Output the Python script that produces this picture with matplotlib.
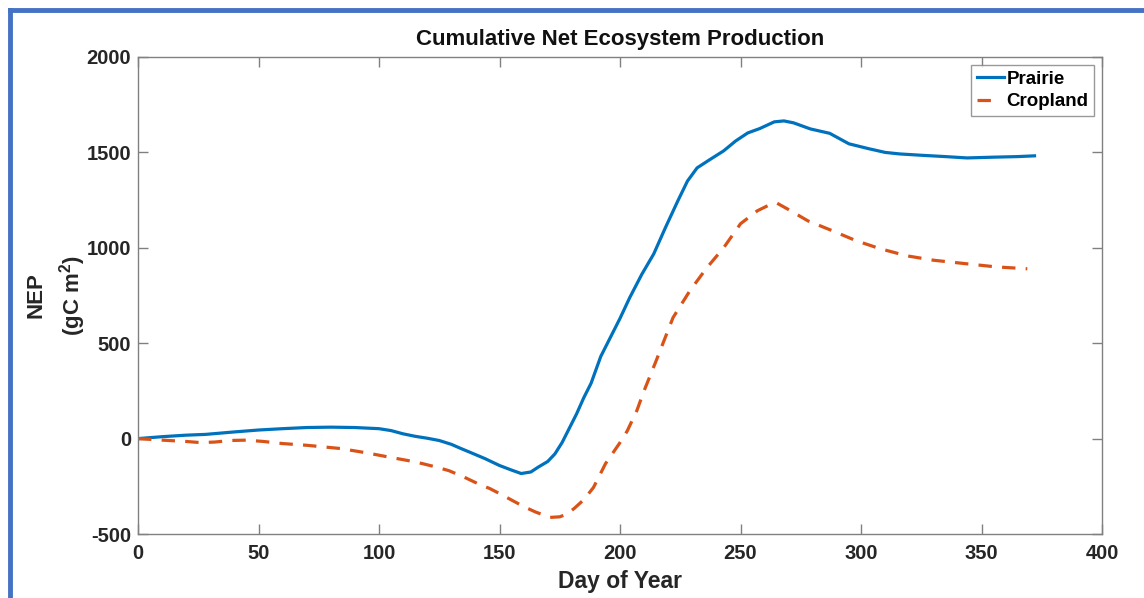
import matplotlib
matplotlib.use("Agg")
import matplotlib.pyplot as plt
from matplotlib.lines import Line2D

# Values
prairie_day = [0, 10, 20, 28, 40, 50, 60, 70, 80, 90, 100, 105, 110, 115, 120, 125, 130,
               134, 138, 144, 150, 155, 159, 163, 166, 170, 173, 176, 178, 182, 185, 188,
               192, 196, 200, 204, 209, 214, 219, 224, 228, 232, 237, 243, 248, 253, 258,
               264, 268, 272, 279, 287, 295, 303, 310, 316, 325, 335, 344, 355, 365, 372]
prairie_nep = [0, 10, 18, 22, 35, 45, 52, 58, 60, 58, 52, 42, 25, 12, 2, -10, -30,
               -52, -73, -105, -141, -165, -183, -175, -150, -120, -80, -20, 30, 130, 215, 290,
               430, 530, 630, 738, 860, 968, 1110, 1246, 1350, 1419, 1460, 1508, 1560, 1602, 1625,
               1660, 1665, 1655, 1623, 1600, 1545, 1520, 1500, 1492, 1485, 1478, 1471, 1475, 1478, 1482]

crop_day = [0, 10, 20, 26, 32, 38, 45, 52, 60, 70, 84, 95, 105, 112, 118, 124, 129,
            135, 141, 146, 150, 155, 160, 165, 171, 175, 178, 181, 185, 189, 194, 200,
            203, 207, 210, 215, 222, 229, 236, 243, 250, 257, 262, 265, 270, 278, 288,
            298, 308, 319, 330, 344, 356, 369]
crop_nep = [0, -8, -15, -21, -18, -10, -8, -15, -26, -35, -52, -75, -99, -115, -131, -150, -168,
            -200, -236, -262, -288, -322, -356, -385, -413, -410, -395, -366, -320, -256, -131, -21,
            40, 147, 251, 408, 634, 775, 895, 1000, 1126, 1194, 1225, 1235, 1200, 1141, 1090,
            1037, 995, 958, 935, 916, 900, 890]

x_ticks = [0, 50, 100, 150, 200, 250, 300, 350, 400]
y_ticks = [-500, 0, 500, 1000, 1500, 2000]

plt.rcParams["font.family"] = ["Liberation Sans", "DejaVu Sans"]
plt.rcParams["mathtext.fontset"] = "custom"
plt.rcParams["mathtext.rm"] = "Liberation Sans:bold"
plt.rcParams["mathtext.it"] = "Liberation Sans:bold"
plt.rcParams["mathtext.bf"] = "Liberation Sans:bold"

BLUE, ORANGE = "#0072BD", "#D95319"
W, H = 1144, 598
fig = plt.figure(figsize=(W / 100, H / 100), dpi=100)
fig.patch.set_facecolor("white")
ax = fig.add_axes([138 / W, 1 - 534 / H, (1102 - 138) / W, (534 - 57) / H])

bold = dict(family=["Liberation Sans", "DejaVu Sans"], weight="bold")

ax.plot(prairie_day, prairie_nep, color=BLUE, lw=2.3)
ax.plot(crop_day, crop_nep, color=ORANGE, lw=2.3, ls=(0, (4.2, 3.2)))

ax.set_xlim(0, 400)
ax.set_ylim(-500, 2000)
ax.set_xticks(x_ticks)
ax.set_yticks(y_ticks)
ax.set_xticklabels([str(t) for t in x_ticks], fontdict=dict(size=14.5, **bold), color="#262626")
ax.set_yticklabels([str(t) for t in y_ticks], fontdict=dict(size=14.5, **bold), color="#262626")
ax.tick_params(direction="in", length=7, width=1, color="#808080", top=True, right=True)
ax.tick_params(axis="x", pad=7)
ax.tick_params(axis="y", pad=5)
for s in ax.spines.values():
    s.set_color("#808080")
    s.set_linewidth(1.0)

ax.set_title("Cumulative Net Ecosystem Production", fontdict=dict(size=16, **bold),
             color="#111111", pad=9)
ax.set_xlabel("Day of Year", fontdict=dict(size=16.5, **bold), color="#262626", labelpad=5)
ax.set_ylabel("NEP\n(gC m$^2$)", fontdict=dict(size=16, **bold), color="#262626",
              labelpad=-1, linespacing=1.45)

# legend proxies: the cropland handle shows a single dash, as in the reference
handles = [Line2D([], [], color=BLUE, lw=2.3),
           Line2D([], [], color=ORANGE, lw=2.3, ls=(0, (4.2, 12)))]
leg = ax.legend(handles, ["Prairie", "Cropland"], loc="upper right",
                prop=dict(size=13.5, **bold), frameon=True, fancybox=False,
                borderaxespad=0.42, handlelength=1.45, handletextpad=0.15, borderpad=0.3,
                labelspacing=0.3)
leg.get_frame().set_edgecolor("#808080")
leg.get_frame().set_linewidth(1.0)

# blue screenshot frame along top and left
fig.add_artist(Line2D([10 / W, 1.0], [1 - 10 / H, 1 - 10 / H], transform=fig.transFigure,
                      color="#4472C4", lw=3.5))
fig.add_artist(Line2D([10 / W, 10 / W], [0.0, 1 - 10 / H], transform=fig.transFigure,
                      color="#4472C4", lw=3.5))

fig.savefig("out.png", dpi=100)
